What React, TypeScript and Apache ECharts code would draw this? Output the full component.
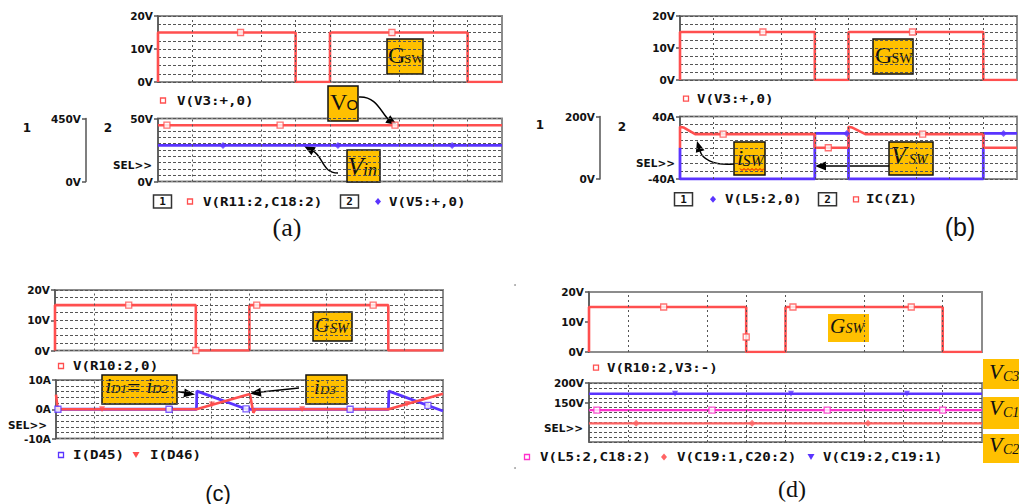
import React, { useEffect, useRef } from "react";
import * as echarts from "echarts";

// ---------------- data (time in screen divisions 0..10) ----------------
const vGridTimes = [1, 3, 4, 5, 7, 8, 9];

// (a)
const aGateT = [0, 0, 4, 4, 5, 5, 9, 9, 10];
const aGateV = [0, 15, 15, 0, 0, 15, 15, 0, 0];
const aGateMarkT = [2.4, 6.8];
const aGateMarkV = [15, 15];
const aVoT = [0, 10];
const aVoV = [402, 402];
const aVoMarkT = [0.26, 3.55, 6.89];
const aVoMarkV = [402, 402, 402];
const aVinT = [0, 10];
const aVinV = [28.6, 28.6];
const aVinMarkT = [1.89, 5.23, 8.55];
const aVinMarkV = [28.6, 28.6, 28.6];

// (b)
const bGateT = [0, 0, 4, 4, 5, 5, 9, 9, 10];
const bGateV = [0, 15, 15, 0, 0, 15, 15, 0, 0];
const bGateMarkT = [2.46, 6.9];
const bGateMarkV = [15, 15];
const bVswT = [0, 0, 4, 4, 5, 5, 9, 9, 10];
const bVswV = [100, 0, 0, 146, 146, 0, 0, 146, 146];
const bVswMarkT = [4.95, 9.6];
const bVswMarkV = [146, 146];
const bIswT = [0, 0, 0.1, 0.45, 4, 4, 5, 5, 5.1, 5.5, 9, 9, 10];
const bIswV = [0, 27, 26, 17.5, 17.5, 0, 0, 27, 26, 17.5, 17.5, 0, 0];
const bIswMarkT = [1.28, 4.4, 7.2];
const bIswMarkV = [17.5, 0, 17.5];

// (c)
const cGateT = [0, 0, 3.63, 3.63, 5.01, 5.01, 8.59, 8.59, 10];
const cGateV = [0, 15, 15, 0, 0, 15, 15, 0, 0];
const cGateMarkT = [1.9, 3.63, 5.2, 8.2];
const cGateMarkV = [15, 0, 15, 15];
const cD45T = [0, 3.63, 3.64, 4.93, 8.59, 8.6, 10];
const cD45V = [0, 0, 6.2, 0, 0, 6.2, -0.6];
const cD45MarkT = [0.05, 2.92, 4.91, 7.6, 9.61];
const cD45MarkV = [0, 0, 0.1, 0, 1.3];
const cD46T = [0, 0.04, 0.1, 3.63, 5.01, 5.1, 5.15, 8.59, 10];
const cD46V = [5, 0.6, 0, 0, 5.2, -1.2, 0, 0, 5.3];
const cD46MarkT = [1.19, 4.03, 6.36, 9.07];
const cD46MarkV = [0, 1.6, 0, 1.8];

// (d)
const dGateT = [0, 0, 4, 4, 5, 5, 9, 9, 10];
const dGateV = [0, 15, 15, 0, 0, 15, 15, 0, 0];
const dGateMarkT = [1.9, 4.0, 5.19, 8.2];
const dGateMarkV = [15, 5, 15, 15];
const dVc1T = [0, 10];
const dVc1V = [131, 131];
const dVc1MarkT = [0.2, 3.13, 6.06, 9.0];
const dVc1MarkV = [131, 131, 131, 131];
const dVc2T = [0, 10];
const dVc2V = [97.5, 97.5];
const dVc2MarkT = [1.2, 4.15, 7.1];
const dVc2MarkV = [97.5, 97.5, 97.5];
const dVc3T = [0, 10];
const dVc3V = [172.5, 172.5];
const dVc3MarkT = [2.19, 5.14, 8.09];
const dVc3MarkV = [172.5, 172.5, 172.5];

// ---------------- styling ----------------
const RED = "#ff4f4f";
const BLUE = "#5a34ff";
const MAGENTA = "#ff30cc";
const SALMON = "#ff6464";
const ORANGE = "#ffc000";
const GRIDC = "#555555";
const LABEL_FONT = "DejaVu Sans";
const MONO = 'bold 12px "DejaVu Sans Mono"';
const SERIF = '"Liberation Serif"';

const pts = (t: number[], v: number[]) => t.map((x, i) => [x, v[i]]);

function trace(xi: number, yi: number, t: number[], v: number[], color: string, width = 2.5) {
  return {
    type: "line",
    xAxisIndex: xi,
    yAxisIndex: yi,
    data: pts(t, v),
    showSymbol: false,
    symbol: "none",
    lineStyle: { color, width },
    itemStyle: { color },
    z: 3,
    silent: true,
  };
}

function marks(xi: number, yi: number, t: number[], v: number[], color: string, symbol: string, hollow: boolean, size = 6, rotate = 0) {
  return {
    type: "scatter",
    xAxisIndex: xi,
    yAxisIndex: yi,
    data: pts(t, v),
    symbol,
    symbolSize: size,
    symbolRotate: rotate,
    itemStyle: hollow ? { color: "#ffffff", borderColor: color, borderWidth: 1.3 } : { color },
    z: 5,
    silent: true,
  };
}

function vGrid(xi: number, yi: number, y0: number) {
  return {
    type: "line",
    xAxisIndex: xi,
    yAxisIndex: yi,
    data: [[0, y0]],
    symbol: "none",
    lineStyle: { width: 0 },
    silent: true,
    z: 1,
    markLine: {
      silent: true,
      symbol: ["none", "none"],
      label: { show: false },
      lineStyle: { color: GRIDC, type: [2, 3], width: 1 },
      data: vGridTimes.map((t) => ({ xAxis: t })),
    },
  };
}

// labelled axis: ticks + labels only at the given values
function yAx(gridIndex: number, min: number, max: number, labels: number[], unit: string, offset = 0) {
  return {
    type: "value",
    gridIndex,
    min,
    max,
    interval: max - min,
    position: "left",
    offset,
    axisLine: { show: true, onZero: false, lineStyle: { color: "#555", width: 1.5 } },
    axisTick: { show: true, length: 4, customValues: labels, lineStyle: { color: "#555", width: 1.5 } },
    axisLabel: {
      show: true,
      customValues: labels,
      formatter: (v: number) => `${v}${unit}`,
      margin: 5,
      color: "#111",
      fontFamily: LABEL_FONT,
      fontWeight: "bold",
      fontSize: 10.5,
    },
    splitLine: { show: false },
  };
}

// helper axis that only draws the dotted horizontal grid
function gridAx(gridIndex: number, min: number, max: number, interval: number) {
  return {
    type: "value",
    gridIndex,
    min,
    max,
    interval,
    position: "left",
    axisLine: { show: false },
    axisTick: { show: false },
    axisLabel: { show: false },
    splitLine: { show: true, lineStyle: { color: GRIDC, type: [3, 2], width: 1 } },
  };
}

const gridBoxes = [
  [158, 16, 344, 66],
  [158, 118.5, 344, 63],
  [680, 16, 337, 64],
  [680, 116.5, 337, 62.5],
  [55, 290, 388, 60.5],
  [56, 380, 387, 58.5],
  [589, 292, 393, 60],
  [589, 383, 393, 59],
];

// ---------------- graphic helpers ----------------
const txt = (x: number, y: number, text: string, font: string, align = "left", extra: any = {}) => ({
  type: "text",
  x,
  y,
  silent: true,
  ...extra,
  style: { text, font, fill: "#111", textAlign: align, textVerticalAlign: "middle", align, verticalAlign: "middle" },
});
const ltext = (x: number, y: number, s: string) => txt(x, y, s, MONO, "left", { scaleX: 1.18 });
const numBox = (x: number, y: number, n: string) => [
  { type: "rect", silent: true, shape: { x, y: y - 6.5, width: 18, height: 13 }, style: { fill: "#fff", stroke: "#333", lineWidth: 1.5 } },
  txt(x + 9, y, n, 'bold 11px "DejaVu Sans Mono"', "center"),
];
const sqMark = (cx: number, cy: number, color: string) => ({
  type: "rect",
  silent: true,
  shape: { x: cx - 2.5, y: cy - 2.5, width: 5, height: 5 },
  style: { fill: "#fff", stroke: color, lineWidth: 1.3 },
});
const diaMark = (cx: number, cy: number, color: string) => ({
  type: "polygon",
  silent: true,
  shape: { points: [[cx, cy - 3.5], [cx + 3, cy], [cx, cy + 3.5], [cx - 3, cy]] },
  style: { fill: color },
});
const triDown = (cx: number, cy: number, color: string) => ({
  type: "polygon",
  silent: true,
  shape: { points: [[cx - 3.5, cy - 3], [cx + 3.5, cy - 3], [cx, cy + 3]] },
  style: { fill: color },
});
const box = (x: number, y: number, w: number, h: number, border: boolean) => ({
  type: "rect",
  silent: true,
  shape: { x, y, width: w, height: h },
  style: border ? { fill: ORANGE, stroke: "#111", lineWidth: 1.5 } : { fill: ORANGE },
});
const head = (tx: number, ty: number, dx: number, dy: number, len = 11, half = 4.5) => {
  const n = Math.hypot(dx, dy);
  const ux = dx / n;
  const uy = dy / n;
  const bx = tx - ux * len;
  const by = ty - uy * len;
  return {
    type: "polygon",
    silent: true,
    shape: { points: [[tx, ty], [bx - uy * half, by + ux * half], [bx + uy * half, by - ux * half]] },
    style: { fill: "#000" },
  };
};
const curve = (x1: number, y1: number, c1x: number, c1y: number, c2x: number, c2y: number, x2: number, y2: number) => ({
  type: "bezierCurve",
  silent: true,
  shape: { x1, y1, cpx1: c1x, cpy1: c1y, cpx2: c2x, cpy2: c2y, x2, y2 },
  style: { stroke: "#000", fill: "none", lineWidth: 1.4 },
});
const seg = (x1: number, y1: number, x2: number, y2: number) => ({
  type: "line",
  silent: true,
  shape: { x1, y1, x2, y2 },
  style: { stroke: "#000", lineWidth: 1.4 },
});
const selText = (x: number, y: number) => txt(x, y, "SEL>>", `bold 10.5px "${LABEL_FONT}"`, "right");
const axNum = (x: number, y: number, s: string) => txt(x, y, s, `bold 12px "${LABEL_FONT}"`, "center");

function buildGraphics() {
  const squiggle: number[][] = [];
  for (let i = 0; i <= 12; i++) squiggle.push([740 + i * 2, i % 2 === 0 ? 168.5 : 170.5]);
  const it = (s: number) => `italic ${s}px ${SERIF}`;
  const up = (s: number) => `${s}px ${SERIF}`;
  return [
    // ----- (a) -----
    sqMark(163, 100.5, RED),
    ltext(177, 100.5, "V(V3:+,0)"),
    axNum(27, 128, "1"),
    axNum(108, 128, "2"),
    selText(152, 165),
    ...numBox(153.5, 201.5, "1"),
    sqMark(190, 201.5, RED),
    ltext(203, 201.5, "V(R11:2,C18:2)"),
    ...numBox(340.5, 201.5, "2"),
    diaMark(378, 201.5, BLUE),
    ltext(389, 201.5, "V(V5:+,0)"),
    box(387, 39, 36, 35, true),
    txt(388, 54.5, "G", up(24)),
    txt(404, 58.5, "SW", up(13)),
    box(328, 86, 30, 35, true),
    txt(330, 101.5, "V", up(24)),
    txt(346.5, 104.5, "O", '15px "Liberation Sans"'),
    box(347, 150, 33, 32, true),
    txt(347.5, 166.2, "V", it(26)),
    txt(363, 170.4, "in", it(18)),
    curve(359, 97, 376, 96, 381, 112, 388, 119),
    head(397, 125, 1, 0.65),
    curve(338, 173, 322, 173, 323, 156, 313, 151),
    head(304, 146, -1, -0.55),
    txt(287, 227.5, "(a)", `26px ${SERIF}`, "center"),

    // ----- (b) -----
    sqMark(686, 98.7, RED),
    ltext(697, 98.7, "V(V3:+,0)"),
    axNum(540, 125, "1"),
    axNum(622, 127, "2"),
    selText(675, 163),
    ...numBox(674.5, 199.3, "1"),
    diaMark(713, 199.3, BLUE),
    ltext(725, 199.3, "V(L5:2,0)"),
    ...numBox(818.5, 199.3, "2"),
    sqMark(856, 199.3, RED),
    ltext(866, 199.3, "IC(Z1)"),
    box(873, 39, 40, 35, true),
    txt(875, 54.6, "G", up(24)),
    txt(891.5, 58, "SW", up(14)),
    box(734, 142, 31, 33, true),
    txt(737, 157.6, "i", it(22)),
    txt(742.5, 160.6, "SW", it(16)),
    { type: "polyline", silent: true, shape: { points: squiggle }, style: { stroke: "#e00000", fill: "none", lineWidth: 1 } },
    box(889, 142, 44, 33, true),
    txt(891, 155.1, "V", it(25)),
    txt(909, 159.3, "SW", it(14)),
    curve(734, 164, 712, 166, 702, 158, 700, 151),
    head(697, 141, -0.3, -1),
    seg(889, 166, 825, 166),
    head(815, 166, -1, 0),
    txt(960, 226.5, "(b)", '25px "Liberation Sans"', "center"),

    // ----- (c) -----
    sqMark(61, 366, RED),
    ltext(73, 366, "V(R10:2,0)"),
    selText(47, 425),
    sqMark(61, 455, BLUE),
    ltext(73, 455, "I(D45)"),
    triDown(136, 455, RED),
    ltext(150, 455, "I(D46)"),
    box(313, 312, 39, 29, true),
    txt(315, 325.3, "G", it(20)),
    txt(330, 328.1, "SW", it(14)),
    box(102, 375, 75, 29, true),
    txt(105.5, 386.2, "i", it(21)),
    txt(111, 388.6, "D1", it(13)),
    txt(127, 387, "=", up(24)),
    txt(146.5, 386.2, "i", it(21)),
    txt(152, 388.6, "D2", it(13)),
    box(306, 375, 41, 29, true),
    txt(314, 386.7, "i", it(21)),
    txt(320, 389, "D3", it(13)),
    seg(177, 391.5, 186, 393),
    head(195, 394.5, 1, 0.15),
    seg(299, 388, 261, 392),
    head(250, 393.5, -1, 0.12),
    txt(218, 493, "(c)", '22px "Liberation Sans"', "center"),
    { type: "circle", silent: true, shape: { cx: 515, cy: 285, r: 0.9 }, style: { fill: "#999" } },
    { type: "circle", silent: true, shape: { cx: 515, cy: 468, r: 0.9 }, style: { fill: "#999" } },

    // ----- (d) -----
    sqMark(596, 367.7, RED),
    ltext(607, 367.7, "V(R10:2,V3:-)"),
    selText(583, 428),
    sqMark(527, 457, MAGENTA),
    ltext(540, 457, "V(L5:2,C18:2)"),
    diaMark(664, 457, SALMON),
    ltext(677, 457, "V(C19:1,C20:2)"),
    triDown(811, 457, BLUE),
    ltext(823, 457, "V(C19:2,C19:1)"),
    box(828, 314, 41, 28, false),
    txt(830, 326.4, "G", it(21)),
    txt(845.5, 328.8, "SW", it(14)),
    box(983, 359, 40, 30, false),
    txt(989, 371.6, "V", it(22)),
    txt(1003, 376.3, "C3", it(14)),
    box(983, 397, 40, 32, false),
    txt(989, 407.6, "V", it(22)),
    txt(1003, 412.3, "C1", it(14)),
    box(983, 434, 40, 29, false),
    txt(989, 444.6, "V", it(22)),
    txt(1003, 449.3, "C2", it(14)),
    txt(792, 489, "(d)", `24px ${SERIF}`, "center"),
  ];
}

export default function App() {
  const ref = useRef<HTMLDivElement>(null);
  useEffect(() => {
    document.body.style.margin = "0";
    if (!ref.current) return;
    const chart = echarts.init(ref.current, null, { renderer: "svg", width: 1019, height: 504 });
    const grid = gridBoxes.map(([left, top, width, height]) => ({
      left,
      top,
      width,
      height,
      show: true,
      borderColor: "#8c8c8c",
      borderWidth: 2,
      backgroundColor: "transparent",
      containLabel: false,
      outerBoundsMode: "none",
    }));
    const xAxis = gridBoxes.map((_, i) => ({ type: "value", gridIndex: i, min: 0, max: 10, show: false }));
    const yAxis = [
      yAx(0, 0, 20, [0, 10, 20], "V"),
      yAx(1, 0, 50, [0, 50], "V"),
      yAx(1, 0, 450, [0, 450], "V", 72),
      yAx(2, 0, 20, [0, 10, 20], "V"),
      yAx(3, -40, 40, [-40, 40], "A"),
      yAx(3, 0, 200, [0, 200], "V", 80),
      yAx(4, 0, 20, [0, 10, 20], "V"),
      yAx(5, -10, 10, [-10, 0, 10], "A"),
      yAx(6, 0, 20, [0, 10, 20], "V"),
      yAx(7, 50, 200, [150, 200], "V"),
      // dotted horizontal grids
      gridAx(0, 0, 20, 2.5),
      gridAx(1, 0, 50, 5),
      gridAx(2, 0, 20, 2.5),
      gridAx(3, -40, 40, 10),
      gridAx(4, 0, 20, 2.5),
      gridAx(5, -10, 10, 2),
      gridAx(7, 50, 200, 12.5),
    ];
    const series = [
      vGrid(0, 0, 0),
      vGrid(1, 1, 0),
      vGrid(2, 3, 0),
      vGrid(3, 4, 0),
      vGrid(4, 6, 0),
      vGrid(5, 7, 0),
      vGrid(6, 8, 0),
      vGrid(7, 9, 50),
      // (a)
      trace(0, 0, aGateT, aGateV, RED, 2.6),
      marks(0, 0, aGateMarkT, aGateMarkV, RED, "rect", true),
      trace(1, 2, aVoT, aVoV, RED, 2.6),
      marks(1, 2, aVoMarkT, aVoMarkV, RED, "rect", true),
      trace(1, 1, aVinT, aVinV, BLUE, 2.8),
      marks(1, 1, aVinMarkT, aVinMarkV, BLUE, "diamond", false, 7),
      // (b)
      trace(2, 3, bGateT, bGateV, RED, 2.6),
      marks(2, 3, bGateMarkT, bGateMarkV, RED, "rect", true),
      trace(3, 5, bVswT, bVswV, BLUE, 2.8),
      marks(3, 5, bVswMarkT, bVswMarkV, BLUE, "diamond", false, 7),
      trace(3, 4, bIswT, bIswV, RED, 2.6),
      marks(3, 4, bIswMarkT, bIswMarkV, RED, "rect", true),
      // (c)
      trace(4, 6, cGateT, cGateV, RED, 2.6),
      marks(4, 6, cGateMarkT, cGateMarkV, RED, "rect", true),
      trace(5, 7, cD45T, cD45V, BLUE, 2.8),
      marks(5, 7, cD45MarkT, cD45MarkV, BLUE, "rect", true),
      trace(5, 7, cD46T, cD46V, RED, 2.6),
      marks(5, 7, cD46MarkT, cD46MarkV, RED, "triangle", false, 6, 180),
      // (d)
      trace(6, 8, dGateT, dGateV, RED, 2.6),
      marks(6, 8, dGateMarkT, dGateMarkV, RED, "rect", true),
      trace(7, 9, dVc1T, dVc1V, MAGENTA, 2.2),
      marks(7, 9, dVc1MarkT, dVc1MarkV, MAGENTA, "rect", true),
      trace(7, 9, dVc2T, dVc2V, SALMON, 2.2),
      marks(7, 9, dVc2MarkT, dVc2MarkV, SALMON, "diamond", false, 7),
      trace(7, 9, dVc3T, dVc3V, BLUE, 2.6),
      marks(7, 9, dVc3MarkT, dVc3MarkV, BLUE, "triangle", false, 6, 180),
    ];
    chart.setOption({
      animation: false,
      backgroundColor: "#ffffff",
      grid,
      xAxis,
      yAxis,
      series,
      graphic: { elements: buildGraphics() },
    });
    return () => chart.dispose();
  }, []);
  return <div ref={ref} style={{ position: "fixed", left: 0, top: 0, width: 1019, height: 504 }} />;
}
